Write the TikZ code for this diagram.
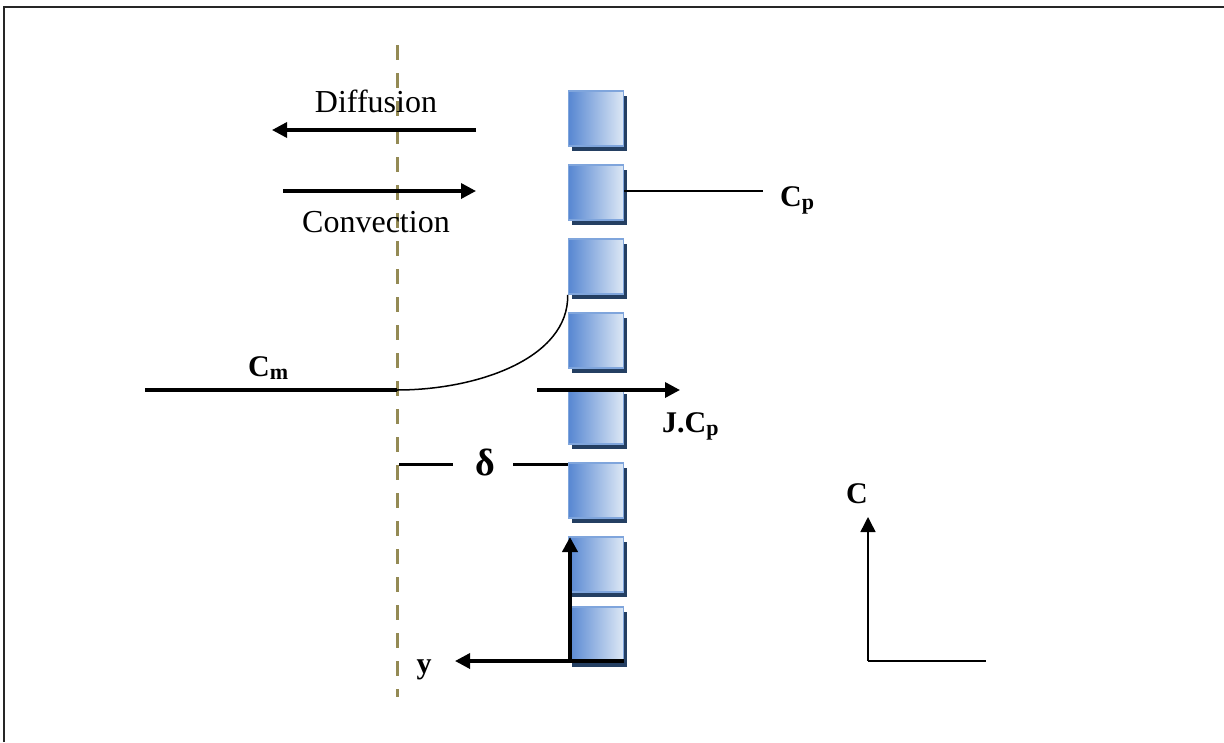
\documentclass[tikz,border=0pt]{standalone}
\usepackage{fontspec}
\setmainfont{Liberation Serif}
\usetikzlibrary{arrows.meta,shadows}
\definecolor{boundary}{HTML}{948A54}
\definecolor{poredark}{HTML}{5787D2}
\definecolor{poremid}{HTML}{A6BFE6}
\definecolor{porelight}{HTML}{DDE8F5}
\definecolor{poreedge}{HTML}{7FA5DC}
\definecolor{poreshadow}{HTML}{243F62}
\tikzset{
  pore/.style={rectangle, minimum size=55pt, inner sep=0pt, draw=poreedge,
    line width=1.6pt, left color=poredark, middle color=poremid, right color=porelight,
    drop shadow={shadow xshift=3.5pt, shadow yshift=-5pt, fill=poreshadow, opacity=1}},
  flux/.style={line width=3.4pt, -{Triangle[length=15pt,width=15pt]}},
  thinline/.style={line width=1.5pt},
  plain/.style={font=\fontsize{32}{36}\selectfont, inner sep=0pt},
  lab/.style={font=\fontsize{30}{32}\selectfont\bfseries, inner sep=0pt},
}
\newcommand{\subtxt}[1]{\raisebox{-3pt}{\fontsize{22}{24}\selectfont #1}}
\begin{document}
\begin{tikzpicture}[x=1pt,y=-1pt]
\useasboundingbox (0,0) rectangle (1224,742);
% outer frame
\draw[line width=2pt, black!85] (4,742) -- (4,7) -- (1224,7);

% membrane pores
\foreach \n/\t in {1/91,2/165,3/239,4/313,5/389,6/463,7/537,8/607}
  \node[pore] (s\n) at (596,\t+27.5) {};

% boundary layer edge
\coordinate (bt) at (397,45);
\coordinate (bb) at (397,697);
\draw[boundary, line width=3pt, dash pattern=on 15pt off 13pt] (bt) -- (bb);

% diffusion and convection
\coordinate (d1) at (476,130);
\coordinate (d2) at (272,130);
\draw[flux] (d1) -- (d2);
\node[plain, anchor=base] (diff) at (376,112) {Diffusion};
\coordinate (c1) at (283,191);
\coordinate (c2) at (476,191);
\draw[flux] (c1) -- (c2);
\node[plain, anchor=base] (conv) at (376,232) {Convection};

% permeate concentration
\coordinate (cpe) at (763,191);
\draw[thinline] (s2.east |- cpe) -- (cpe);
\node[lab, anchor=base west] (cp) at (780,206) {C\subtxt{p}};

% concentration profile
\coordinate (cm0) at (145,390);
\coordinate (cm) at (397,390);
\draw[line width=3.4pt] (cm0) -- (cm);
\draw[thinline] (cm) .. controls (478,390) and (569,358) .. (s3.south west);
\node[lab, anchor=base west] (cml) at (248,376) {C\subtxt{m}};

% solute flux through membrane
\coordinate (j1) at (537,390);
\coordinate (j2) at (680,390);
\draw[flux] (j1) -- (j2);
\node[lab, anchor=base west] (jcp) at (662,432) {J.C\subtxt{p}};

% boundary layer thickness
\coordinate (dl1) at (399,464);
\coordinate (dl2) at (453,464);
\coordinate (dr1) at (513,464);
\draw[line width=3pt] (dl1) -- (dl2);
\draw[line width=3pt] (dr1) -- (dr1 -| s6.west);
\node[font=\fontsize{38}{40}\selectfont\bfseries, inner sep=0pt, anchor=base] (delta) at (485,475) {δ};

% coordinate axes at the membrane
\coordinate (o) at (570,661);
\coordinate (ye) at (455,661);
\coordinate (xe) at (570,537);
\draw[line width=3.4pt, -{Triangle[length=15pt,width=15pt]}] (s8.east |- o) -- (ye);
\draw[line width=4pt, -{Triangle[length=15pt,width=15pt]}] (o) -- (xe);
\node[lab, anchor=base] (ylab) at (424,673) {y};

% concentration axes
\coordinate (co) at (868,661);
\coordinate (ct) at (868,517);
\coordinate (cr) at (986,661);
\draw[thinline, -{Triangle[length=15pt,width=15pt]}] (co) -- (ct);
\draw[thinline] (co) -- (cr);
\node[lab, anchor=base] (clab) at (857,503) {C};
\end{tikzpicture}
\end{document}
